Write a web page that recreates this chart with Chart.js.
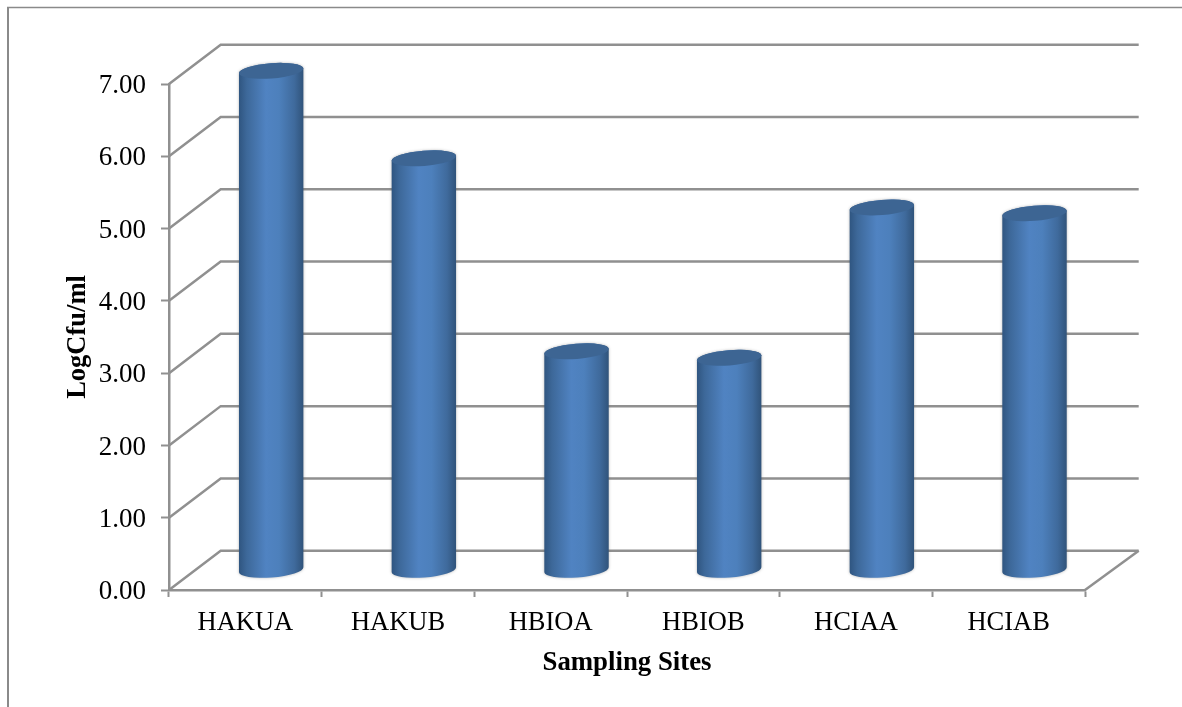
<!DOCTYPE html>
<html>
<head>
<meta charset="utf-8">
<title>LogCfu/ml by sampling site</title>
<script src="https://cdn.jsdelivr.net/npm/chart.js@4"></script>
<style>
  html, body { margin: 0; padding: 0; background: #fff; }
  canvas { display: block; }
</style>
</head>
<body>
<canvas id="chart" width="1182" height="707"></canvas>
<script>
const categories = ['HAKUA', 'HAKUB', 'HBIOA', 'HBIOB', 'HCIAA', 'HCIAB'];
const logCfu = [6.91, 5.70, 3.03, 2.94, 5.02, 4.94];
const axisTitleX = 'Sampling Sites';
const axisTitleY = 'LogCfu/ml';

const FONT = '"Liberation Serif", "Times New Roman", serif';
const LINE = '#909090';
const LINE_W = 2.5;
const DEPTH_X = 51.7;   // horizontal depth of the 3D box
const DEPTH_Y = 39.3;   // vertical depth of the 3D box
const BACK_EXTRA = 2;   // back wall runs slightly wider than the front edge
const CAP_TILT = -0.078;
const CAP_RY = 7.6;

// Outer rule along the top and left of the figure
const framePlugin = {
  id: 'frame',
  beforeDraw(chart) {
    const c = chart.ctx;
    c.save();
    c.strokeStyle = '#8a8a8a';
    c.lineWidth = 1.5;
    c.beginPath(); c.moveTo(7, 7.5); c.lineTo(1182, 7.5); c.stroke();
    c.lineWidth = 2;
    c.beginPath(); c.moveTo(8, 7); c.lineTo(8, 707); c.stroke();
    c.restore();
  }
};

// Floor and back wall of the box, following the value axis ticks
const wallPlugin = {
  id: 'walls',
  beforeDatasetsDraw(chart) {
    const c = chart.ctx;
    const { left, right } = chart.chartArea;
    const yScale = chart.scales.y;
    c.save();
    c.strokeStyle = LINE;
    c.lineWidth = LINE_W;
    yScale.ticks.forEach(t => {
      const y = yScale.getPixelForValue(t.value);
      c.beginPath();
      c.moveTo(left, y);
      c.lineTo(left + DEPTH_X, y - DEPTH_Y);
      c.lineTo(right + DEPTH_X + BACK_EXTRA, y - DEPTH_Y);
      c.stroke();
    });
    const y0 = yScale.getPixelForValue(0);
    c.beginPath();
    c.moveTo(right, y0);
    c.lineTo(right + DEPTH_X + BACK_EXTRA, y0 - DEPTH_Y);
    c.stroke();
    c.restore();
  }
};

// Replaces the flat bars with shaded cylinders standing mid-way inside the box
const cylinderPlugin = {
  id: 'cylinders',
  beforeDatasetDraw(chart, args) {
    const c = chart.ctx;
    chart.getDatasetMeta(args.index).data.forEach(bar => {
      const p = bar.getProps(['x', 'y', 'base', 'width'], true);
      const cx = p.x + DEPTH_X / 2;
      const top = p.y - DEPTH_Y / 2;
      const bottom = p.base - DEPTH_Y / 2;
      const rx = p.width / 2;
      const ex = rx * Math.cos(CAP_TILT);
      const ey = rx * Math.sin(CAP_TILT);

      const side = c.createLinearGradient(cx - rx, 0, cx + rx, 0);
      side.addColorStop(0, '#2f5580');
      side.addColorStop(0.12, '#3d6899');
      side.addColorStop(0.42, '#5083c2');
      side.addColorStop(0.62, '#4d80bc');
      side.addColorStop(0.86, '#3f6a9c');
      side.addColorStop(1, '#30537a');

      c.save();
      c.shadowColor = 'rgba(90,90,90,0.45)';
      c.shadowBlur = 3;
      c.fillStyle = side;
      c.beginPath();
      c.moveTo(cx - ex, top - ey);
      c.lineTo(cx - ex, bottom - ey);
      c.ellipse(cx, bottom, rx, CAP_RY, CAP_TILT, Math.PI, 0, true);
      c.lineTo(cx + ex, top + ey);
      c.ellipse(cx, top, rx, CAP_RY, CAP_TILT, 0, Math.PI, true);
      c.closePath();
      c.fill();
      c.restore();

      c.save();
      c.fillStyle = '#3d6593';
      c.beginPath();
      c.ellipse(cx, top, rx, CAP_RY, CAP_TILT, 0, Math.PI * 2);
      c.fill();
      c.restore();
    });
    return false;
  }
};

new Chart(document.getElementById('chart'), {
  type: 'bar',
  data: {
    labels: categories,
    datasets: [{
      label: axisTitleY,
      data: logCfu,
      backgroundColor: '#4f81bd',
      barPercentage: 0.423,
      categoryPercentage: 1
    }]
  },
  plugins: [framePlugin, wallPlugin, cylinderPlugin],
  options: {
    responsive: false,
    animation: false,
    layout: { padding: { top: 84, right: 97, left: 0, bottom: 0 } },
    plugins: { legend: { display: false }, tooltip: { enabled: false } },
    scales: {
      x: {
        afterFit: s => { s.height = 117; },
        border: { display: true, color: LINE, width: LINE_W },
        grid: { display: true, drawOnChartArea: false, drawTicks: true, tickLength: 7, tickWidth: 2, tickColor: LINE, color: LINE },
        ticks: { color: '#000', padding: 10, maxRotation: 0, font: { family: FONT, size: 26.5 } },
        title: { display: true, text: axisTitleX, color: '#000', padding: { top: 0, bottom: 28 }, font: { family: FONT, size: 26.8, weight: 'bold' } }
      },
      y: {
        min: 0,
        max: 7,
        afterFit: s => { s.width = 169; },
        border: { display: true, color: LINE, width: LINE_W },
        grid: { display: true, drawOnChartArea: false, drawTicks: true, tickLength: 8, tickWidth: 2, tickColor: LINE, color: LINE },
        ticks: { stepSize: 1, color: '#000', padding: 15, labelOffset: 2, font: { family: FONT, size: 27 }, callback: v => Number(v).toFixed(2) },
        title: { display: true, text: axisTitleY, color: '#000', padding: { top: 62, bottom: 0 }, font: { family: FONT, size: 26.5, weight: 'bold' } }
      }
    }
  }
});
</script>
</body>
</html>
